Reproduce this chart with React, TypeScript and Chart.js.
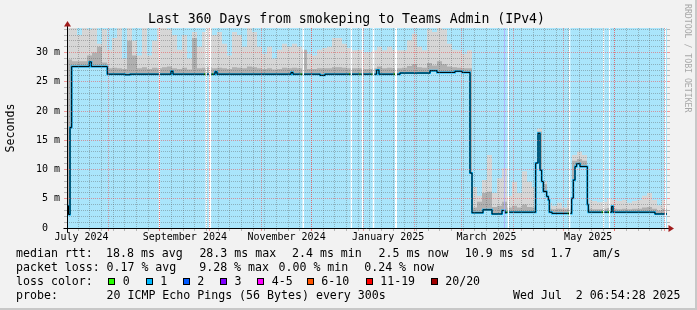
import React, { useEffect, useRef } from 'react';
import { Chart, registerables } from 'chart.js';

Chart.register(...registerables);

const MONO = "'DejaVu Sans Mono', 'Liberation Mono', monospace";

// ---------------- data ----------------
const TITLE = 'Last 360 Days from smokeping to Teams Admin (IPv4)';
const Y_TITLE = 'Seconds';
const WATERMARK = 'RRDTOOL / TOBI OETIKER';
const SPAN_DAYS = 360; // x axis in days since the graph start
const Y_MAX = 34.2; // ms
const BUCKET_DAYS = 3;

// upper edge of the light smoke (ms), one value per 3-day bucket
const smokeMax = [
  35, 35, 33, 35, 34, 35, 31.5, 34, 30.5, 32.5,
  35, 29, 35, 32, 29.5, 35, 29.5, 32, 35, 35,
  34, 33, 30.5, 33, 29, 33.5, 31, 33.5, 35, 33,
  33.5, 31.5, 29.5, 33.5, 33, 31, 35, 33.5, 31, 29.8,
  31, 29, 30.5, 31.5, 31, 31.5, 31, 30, 29.8, 29.5,
  30.5, 30.8, 31, 32.5, 32.5, 31.5, 30.8, 30.4, 30.5, 30,
  30, 30.4, 31, 30.4, 31, 30.5, 30.4, 30.4, 32.1, 33.2,
  31, 30.4, 34, 33.5, 35, 34, 31.5, 30.5, 30.4, 29.8,
  30.4, 7, 5.5, 8.2, 12.5, 6, 8.5, 10.2, 5.5, 7.9,
  6, 9.7, 7.9, 7, 17, 8, 4.3, 3.8, 4.3, 3.5,
  4.8, 12.5, 13.1, 12.5, 4.8, 4.6, 4.4, 4.5, 5.0, 4.8,
  4.6, 4.8, 4.3, 4.6, 4.8, 5.5, 6.0, 4.8, 3.9, 4.8,
];

// upper edge of the darker smoke band (ms)
const smokeMid = [
  28.8, 28.5, 28.5, 28.5, 29.5, 30, 31, 28.3, 27.3, 27.4,
  27.3, 27.2, 32, 29.5, 27.3, 27.5, 27.2, 27.4, 27.3, 27.5,
  27.6, 27.3, 27.2, 27.4, 27.1, 32.5, 27.3, 27.4, 27.5, 27.3,
  27.4, 27.3, 27.2, 27.5, 27.4, 27.3, 27.6, 27.5, 27.3, 27.2,
  27.3, 27.1, 27.2, 27.4, 27.3, 27.4, 27.3, 30.5, 27.2, 27.2,
  27.3, 27.3, 27.3, 27.5, 27.5, 27.4, 27.3, 27.3, 27.3, 27.2,
  27.2, 27.3, 27.6, 27.3, 27.4, 27.3, 27.3, 27.4, 27.7, 28,
  27.5, 27.4, 28.2, 27.8, 28.5, 28, 27.6, 27.5, 27.4, 27.3,
  27.3, 3.5, 4.5, 6.0, 6.2, 3.6, 3.8, 4.5, 3.5, 3.8,
  3.5, 4.0, 3.6, 3.5, 16.5, 7.5, 3.3, 3.2, 3.3, 3.2,
  3.3, 11.5, 11.8, 11.5, 3.3, 3.2, 3.2, 3.3, 3.4, 3.3,
  3.2, 3.3, 3.2, 3.3, 3.3, 3.5, 3.6, 3.3, 3.0, 3.3,
];

// median rtt breakpoints (day, ms, loss class index)
const medianDays = [
  0, 0.9, 1.8, 2.8, 13.4, 14.6, 24.2, 34.8, 37.8, 62.4,
  63.6, 82.2, 83.0, 87.0, 87.6, 88.8, 90.0, 134.4, 135.6, 140.2,
  141.0, 151.8, 154.8, 169.2, 170.0, 175.4, 176.2, 182.6, 183.3, 185.8,
  187.2, 196.0, 196.8, 199.8, 217.8, 222.0, 232.8, 237.0, 241.8, 243.0,
  249.6, 255.0, 261.0, 262.8, 263.6, 264.3, 281.2, 282.6, 283.8, 284.8,
  285.8, 287.8, 288.8, 289.4, 291.0, 300.4, 301.2, 302.8, 303.8, 304.8,
  305.8, 307.8, 312.2, 312.8, 320.8, 321.6, 324.4, 325.2, 326.8, 327.6,
  352.8, 360,
];
const medianValues = [
  3.8, 2.3, 17.2, 27.6, 28.4, 27.6, 26.3, 26.2, 26.3, 26.8,
  26.3, 26.3, 26.3, 26.3, 26.3, 26.7, 26.3, 26.6, 26.3, 26.3,
  26.3, 26.1, 26.3, 26.3, 26.3, 26.3, 26.3, 26.3, 26.3, 27.0,
  26.3, 26.3, 26.3, 26.5, 26.9, 26.6, 26.8, 26.6, 9.4, 2.6,
  3.1, 2.4, 3.0, 2.6, 2.7, 2.7, 11.1, 16.2, 9.9, 7.95,
  6.25, 5.4, 4.8, 2.7, 2.5, 2.5, 2.5, 5.1, 8.2, 10.5,
  11.0, 10.5, 4.0, 2.7, 2.7, 2.7, 2.7, 2.7, 3.7, 2.7,
  2.4, 2.4,
];
const medianLoss = [
  1, 1, 1, 1, 1, 1, 1, 1, 1, 1,
  1, 0, 1, 0, 1, 1, 1, 1, 1, 0,
  1, 1, 1, 0, 1, 0, 1, 0, 1, 1,
  1, 0, 1, 1, 1, 1, 1, 1, 1, 1,
  1, 1, 1, 1, 0, 1, 1, 1, 1, 1,
  1, 1, 1, 1, 1, 0, 1, 1, 1, 1,
  1, 1, 1, 1, 0, 1, 0, 1, 1, 1,
  1, 1,
];

// intervals with no data (days)
const gapStarts = [55.0, 83.0, 85.0, 141.2, 170.1, 176.8, 183.3, 196.8, 264.3, 301.2, 321.6, 325.2, 358.5];
const gapEnds = [55.9, 84.0, 86.6, 142.2, 171.0, 177.8, 184.5, 198.0, 265.2, 302.1, 322.5, 326.0, 359.4];
const vruleStarts = [262.2];
const vruleEnds = [262.8];

// time axis (days from Sun Jul 7 2024 06:54:28)
const FIRST_SUNDAY = 6.712;
const monthStartDays = [24.712, 55.712, 85.712, 116.712, 146.712, 177.712, 208.712, 236.712, 267.712, 297.712, 328.712, 358.712];
const monthLabelDays = [8.712, 70.712, 131.712, 192.712, 251.712, 312.712];
const monthLabels = ['July 2024', 'September 2024', 'November 2024', 'January 2025', 'March 2025', 'May 2025'];

// legend
const statsMedian = ['median rtt:', '18.8 ms avg', '28.3 ms max', '2.4 ms min', '2.5 ms now', '10.9 ms sd', '1.7', 'am/s'];
const statsLoss = ['packet loss:', '0.17 % avg', '9.28 % max', '0.00 % min', '0.24 % now'];
const lossTitle = 'loss color:';
const lossLabels = ['0', '1', '2', '3', '4-5', '6-10', '11-19', '20/20'];
const lossColors = ['#26ff00', '#00b8ff', '#0059ff', '#7e00ff', '#ff00ff', '#ff5500', '#ff0000', '#a00000'];
const probeRow = ['probe:', '20 ICMP Echo Pings (56 Bytes) every 300s', 'Wed Jul  2 06:54:28 2025'];

// ---------------- layout / style ----------------
const BLUE = '#aae5fb';
const LIGHT_SMOKE = '#d6d6d6';
const MID_SMOKE = '#b0b0b0';
const GRID_MINOR = 'rgba(90,90,90,0.38)';
const GRID_MAJOR = 'rgba(235,80,80,0.55)';
const ARROW = '#a01c1c';
const statsMedianX = [16, 106, 199.4, 292, 378.6, 464.8, 550.5, 592.5];
const statsLossX = [16, 106.5, 199.2, 278.5, 364.2];
const lossBoxX = [108.3, 145.7, 182.7, 220, 257.3, 306.7, 365.7, 430.7];
const probeX = [16, 106.5, 513];
const rowTops = [246, 260, 274, 288];

const axesPlugin = {
  id: 'rrdAxes',
  afterDraw(chart: any) {
    const { ctx, chartArea: a } = chart;
    const x0 = Math.round(a.left) + 0.5;
    const yb = Math.round(a.bottom) + 0.5;
    ctx.save();
    ctx.strokeStyle = '#000';
    ctx.lineWidth = 1;
    ctx.beginPath();
    ctx.moveTo(x0, yb + 4);
    ctx.lineTo(x0, a.top - 3);
    ctx.moveTo(x0 - 4, yb);
    ctx.lineTo(a.right + 3, yb);
    ctx.stroke();
    ctx.fillStyle = ARROW;
    ctx.beginPath();
    ctx.moveTo(x0, a.top - 7);
    ctx.lineTo(x0 - 3.5, a.top - 1.5);
    ctx.lineTo(x0 + 3.5, a.top - 1.5);
    ctx.closePath();
    ctx.fill();
    ctx.beginPath();
    ctx.moveTo(a.right + 7, yb);
    ctx.lineTo(a.right + 1.5, yb - 3.5);
    ctx.lineTo(a.right + 1.5, yb + 3.5);
    ctx.closePath();
    ctx.fill();
    ctx.restore();
  },
};

export default function App() {
  const ref = useRef<HTMLCanvasElement>(null);

  useEffect(() => {
    document.body.style.margin = '0';
    const canvas = ref.current;
    if (!canvas) return;

    const stepPts = (arr: number[]) => {
      const pts = arr.map((v, i) => ({ x: i * BUCKET_DAYS, y: v }));
      pts.push({ x: SPAN_DAYS, y: arr[arr.length - 1] });
      return pts;
    };
    const intervalPts = (starts: number[], ends: number[]) => {
      const pts: any[] = [];
      starts.forEach((s, i) => {
        pts.push({ x: s, y: Y_MAX + 1 }, { x: ends[i], y: Y_MAX + 1 }, { x: ends[i], y: null });
      });
      return pts;
    };
    const medianPts = medianDays.map((d, i) => ({ x: d, y: medianValues[i] }));

    const weekDays: number[] = [];
    for (let d = FIRST_SUNDAY; d < SPAN_DAYS; d += 7) weekDays.push(d);
    const monthSet = new Set(monthStartDays);
    const gridDays = [...weekDays, ...monthStartDays].sort((a, b) => a - b);
    const yTicks: number[] = [];
    for (let v = 0; v <= Math.floor(Y_MAX); v++) yTicks.push(v);

    const yGridColor = (c: any) => (c.tick && c.tick.value % 5 === 0 ? GRID_MAJOR : GRID_MINOR);
    const xGridColor = (c: any) => (c.tick && monthSet.has(c.tick.value) ? GRID_MAJOR : GRID_MINOR);

    const base = { pointRadius: 0, pointHoverRadius: 0, xAxisID: 'x', yAxisID: 'y' };

    const chart = new Chart(canvas, {
      type: 'line',
      data: {
        datasets: [
          { ...base, label: 'vrule', data: intervalPts(vruleStarts, vruleEnds), backgroundColor: 'rgba(175,165,255,0.75)', borderWidth: 0, fill: 'origin', order: 0 },
          { ...base, label: 'gaps', data: intervalPts(gapStarts, gapEnds), backgroundColor: '#ffffff', borderWidth: 0, fill: 'origin', order: 1 },
          { ...base, label: 'median', data: medianPts, borderColor: '#000000', borderWidth: 1, stepped: 'before', fill: false, order: 2 },
          {
            ...base, label: 'median loss', data: medianPts, borderColor: lossColors[1], borderWidth: 2, stepped: 'before', fill: false, order: 3,
            segment: { borderColor: (c: any) => lossColors[medianLoss[c.p0DataIndex]] },
          },
          { ...base, label: 'below median', data: medianPts, backgroundColor: BLUE, borderWidth: 0, stepped: 'before', fill: 'origin', order: 4 },
          { ...base, label: 'smoke mid', data: stepPts(smokeMid), backgroundColor: MID_SMOKE, borderWidth: 0, stepped: 'before', fill: 'origin', order: 5 },
          { ...base, label: 'smoke max', data: stepPts(smokeMax), backgroundColor: LIGHT_SMOKE, borderWidth: 0, stepped: 'before', fill: 'origin', order: 6 },
          { ...base, label: 'background', data: [{ x: 0, y: Y_MAX + 1 }, { x: SPAN_DAYS, y: Y_MAX + 1 }], backgroundColor: BLUE, borderWidth: 0, fill: 'origin', order: 7 },
        ] as any,
      },
      options: {
        animation: false,
        responsive: false,
        devicePixelRatio: 1,
        events: [],
        layout: { padding: { left: 0, top: 28, right: 27, bottom: 66 } },
        plugins: { legend: { display: false }, tooltip: { enabled: false }, title: { display: false } },
        scales: {
          x: {
            type: 'linear', position: 'bottom', min: 0, max: SPAN_DAYS, weight: 0,
            afterBuildTicks: (s: any) => { s.ticks = gridDays.map((v) => ({ value: v })); },
            afterFit: (s: any) => { s.height = 3; },
            ticks: { display: false, autoSkip: false },
            grid: { color: xGridColor, lineWidth: 1, drawTicks: true, tickLength: 3, z: 1 },
            border: { display: false, dash: [1, 1] },
          },
          xl: {
            type: 'linear', position: 'bottom', min: 0, max: SPAN_DAYS, weight: 1,
            afterBuildTicks: (s: any) => { s.ticks = monthLabelDays.map((v) => ({ value: v })); },
            afterFit: (s: any) => { s.height = 13; },
            ticks: {
              autoSkip: false, maxRotation: 0, minRotation: 0, padding: 0, color: '#000',
              font: { family: MONO, size: 10 },
              callback: (_v: any, i: number) => monthLabels[i],
            },
            grid: { display: false, drawTicks: false },
            border: { display: false },
          },
          y: {
            type: 'linear', position: 'left', min: 0, max: Y_MAX,
            afterBuildTicks: (s: any) => { s.ticks = yTicks.map((v) => ({ value: v })); },
            afterFit: (s: any) => { s.width = 67; },
            ticks: {
              autoSkip: false, padding: 4, color: '#000',
              font: { family: MONO, size: 10 },
              callback: (v: any) => (v % 5 === 0 ? (v === 0 ? '0  ' : `${v} m`) : ''),
            },
            grid: { color: yGridColor, lineWidth: 1, drawTicks: true, tickLength: 3, z: 1 },
            border: { display: false, dash: [1, 1] },
            title: { display: true, text: Y_TITLE, color: '#000', font: { family: MONO, size: 11.6 }, padding: { top: 4, bottom: 0 } },
          },
          yr: {
            type: 'linear', position: 'right', min: 0, max: Y_MAX,
            afterBuildTicks: (s: any) => { s.ticks = yTicks.map((v) => ({ value: v })); },
            afterFit: (s: any) => { s.width = 3; },
            ticks: { display: false, autoSkip: false },
            grid: { color: yGridColor, drawOnChartArea: false, drawTicks: true, tickLength: 3, z: 1 },
            border: { display: false },
          },
        },
      } as any,
      plugins: [axesPlugin],
    });

    return () => chart.destroy();
  }, []);

  const text = (s: string, left: number, top: number, key: string) => (
    <span key={key} style={{ position: 'absolute', left, top, lineHeight: '14px', fontSize: 11.6, fontFamily: MONO, whiteSpace: 'pre', color: '#000' }}>{s}</span>
  );

  return (
    <div style={{ position: 'relative', width: 697, height: 310, background: '#f2f2f2', overflow: 'hidden' }}>
      <canvas ref={ref} width={697} height={310} style={{ position: 'absolute', left: 0, top: 0, width: 697, height: 310 }} />
      <div style={{ position: 'absolute', left: 0, top: 11, width: 693, textAlign: 'center', fontFamily: MONO, fontSize: 13.2, lineHeight: '16px', whiteSpace: 'pre', color: '#000' }}>{TITLE}</div>
      <div style={{ position: 'absolute', left: 683, top: 4, writingMode: 'vertical-rl', fontFamily: MONO, fontSize: 8.2, lineHeight: '10px', color: '#a8a8a8', whiteSpace: 'pre' }}>{WATERMARK}</div>
      {statsMedian.map((s, i) => text(s, statsMedianX[i], rowTops[0], 'm' + i))}
      {statsLoss.map((s, i) => text(s, statsLossX[i], rowTops[1], 'l' + i))}
      {text(lossTitle, 16, rowTops[2], 'lt')}
      {lossLabels.map((s, i) => (
        <React.Fragment key={'lc' + i}>
          <span style={{ position: 'absolute', left: lossBoxX[i], top: rowTops[2] + 4, width: 7, height: 7, boxSizing: 'border-box', border: '1px solid #000', background: lossColors[i] }} />
          {text(s, lossBoxX[i] + 14.5, rowTops[2], 'lx' + i)}
        </React.Fragment>
      ))}
      {probeRow.map((s, i) => text(s, probeX[i], rowTops[3], 'p' + i))}
      <div style={{ position: 'absolute', left: 0, top: 0, width: 697, height: 310, boxSizing: 'border-box', borderRight: '2px solid #c8c8c8', borderBottom: '2px solid #c8c8c8', pointerEvents: 'none' }} />
    </div>
  );
}
